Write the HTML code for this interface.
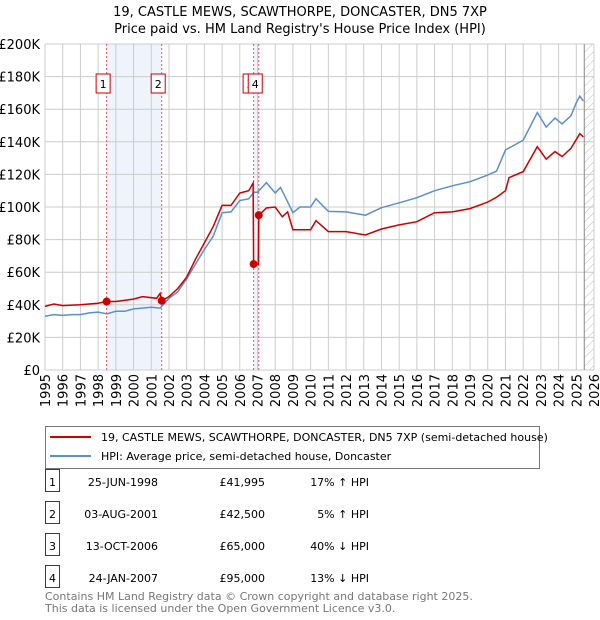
<!DOCTYPE html>
<html><head><meta charset="utf-8"><style>
body{margin:0;background:#fff;font-family:"DejaVu Sans","Liberation Sans",sans-serif;}
svg{display:block}
</style></head><body>
<svg id="chart" width="600" height="620" xmlns="http://www.w3.org/2000/svg" font-family="DejaVu Sans, Liberation Sans, sans-serif">
<defs><pattern id="hatch" width="6" height="6" patternUnits="userSpaceOnUse" patternTransform="rotate(45)"><line x1="0" y1="0" x2="0" y2="6" stroke="#bbb" stroke-width="1"/></pattern></defs>
<text x="300" y="16" text-anchor="middle" font-size="13">19, CASTLE MEWS, SCAWTHORPE, DONCASTER, DN5 7XP</text>
<text x="300" y="33" text-anchor="middle" font-size="13">Price paid vs. HM Land Registry's House Price Index (HPI)</text>
<g id="plot"></g>
<g>
<rect x="45.5" y="426.5" width="494" height="42" fill="#fff" stroke="#777"/>
<line x1="50" y1="437" x2="91" y2="437" stroke="#cc0000" stroke-width="2"/>
<text x="101" y="441" font-size="11">19, CASTLE MEWS, SCAWTHORPE, DONCASTER, DN5 7XP (semi-detached house)</text>
<line x1="50" y1="456" x2="91" y2="456" stroke="#5b8fd0" stroke-width="2"/>
<text x="101" y="460" font-size="11">HPI: Average price, semi-detached house, Doncaster</text>
</g>
<g id="table" font-size="11"></g>
<text x="45" y="600" font-size="11" fill="#777">Contains HM Land Registry data © Crown copyright and database right 2025.</text>
<text x="45" y="612" font-size="11" fill="#777">This data is licensed under the Open Government Licence v3.0.</text>
</svg>
<script>
const hpiYears=[1995,1995.5,1996,1996.5,1997,1997.5,1998,1998.5,1999,1999.5,2000,2000.5,2001,2001.5,2002,2002.5,2003,2003.5,2004,2004.5,2005,2005.5,2006,2006.5,2006.8,2007,2007.5,2008,2008.3,2008.8,2009,2009.4,2010,2010.3,2011,2012,2013.1,2014,2015,2016,2017,2018,2019,2020,2020.5,2021,2021.5,2022,2022.8,2023.3,2023.8,2024.2,2024.7,2025,2025.2,2025.4];
const hpiValues=[33,34,33.5,34,34,35,35.5,34.5,36,36,37.5,38,38.5,38,44,48,56,65,74,82,96.5,97,104,105,109,109,115,108.6,112,101,96.5,100,100,105,97.3,97,95,99.6,102.6,105.7,110,113,115.5,119.6,122,135,138,141,158,149,154.6,151,156,164,168,165];
const priceYears=[1995,1995.5,1996,1997,1998,1998.48,1999,2000,2000.5,2001.3,2001.5,2001.59,2002,2002.5,2003,2003.5,2004,2004.5,2005,2005.5,2006,2006.5,2006.75,2006.78,2007.05,2007.07,2007.5,2008,2008.4,2008.7,2009,2009.4,2010,2010.3,2011,2012,2013.1,2014,2015,2016,2017,2018,2019,2020,2020.5,2021,2021.2,2022,2022.8,2023.3,2023.8,2024.2,2024.7,2025.2,2025.4];
const priceValues=[39,40.5,39.5,40,41,41.995,42,43.5,45,44,47,42.5,45,50,57,68,78,88,101,101,108.6,110,114.7,65,65,95,99.4,100,94,97,86,86,86,91.6,84.9,84.9,82.8,86.5,89,91,96.5,97,99,103,106,110,118,121.7,137,129.4,134,131,136,145,143];
const saleYears=[1998.48,2001.59,2006.78,2007.07];
const saleValues=[41.995,42.5,65,95];
const saleLabels=["1","2","3","4"];
const saleDates=["25-JUN-1998","03-AUG-2001","13-OCT-2006","24-JAN-2007"];
const salePrices=["£41,995","£42,500","£65,000","£95,000"];
const saleHpi=["17% ↑ HPI","5% ↑ HPI","40% ↓ HPI","13% ↓ HPI"];
const yTicks=[0,20,40,60,80,100,120,140,160,180,200];
const yTickLabels=["£0","£20K","£40K","£60K","£80K","£100K","£120K","£140K","£160K","£180K","£200K"];
const xTicks=[1995,1996,1997,1998,1999,2000,2001,2002,2003,2004,2005,2006,2007,2008,2009,2010,2011,2012,2013,2014,2015,2016,2017,2018,2019,2020,2021,2022,2023,2024,2025,2026];

const X0=45,X1=594,Y0=370,Y1=44;
const xs=y=>X0+(y-1995)/(2026-1995)*(X1-X0);
const ys=v=>Y0-v/200*(Y0-Y1);
const NS="http://www.w3.org/2000/svg";
const plot=document.getElementById('plot');
function mk(tag,attrs,parent){const e=document.createElementNS(NS,tag);for(const k in attrs)e.setAttribute(k,attrs[k]);(parent||plot).appendChild(e);return e;}

let b=mk('rect',{x:xs(saleYears[0]),y:Y1,width:xs(saleYears[1])-xs(saleYears[0]),height:Y0-Y1,fill:'#eef3fc'});


b=mk('rect',{x:xs(saleYears[2]),y:Y1,width:xs(saleYears[3])-xs(saleYears[2]),height:Y0-Y1,fill:'#eef3fc'});


b=mk('rect',{x:xs(2025.45),y:Y1,width:X1-xs(2025.45),height:Y0-Y1,fill:'url(#hatch)'});


yTicks.forEach((v,i)=>{
 const l=mk('line',{x1:X0,x2:X1,y1:ys(v),y2:ys(v),stroke:'#ccc','stroke-width':1});
 
 
 const t=mk('text',{x:X0-5,y:ys(v)+5,'text-anchor':'end','font-size':13});
 
 
 t.textContent=yTickLabels[i];
});
xTicks.forEach(yr=>{
 const l=mk('line',{x1:xs(yr),x2:xs(yr),y1:Y1,y2:Y0,stroke:'#ccc','stroke-width':1});
 
 
 const t=mk('text',{x:0,y:0,'text-anchor':'end','font-size':13,transform:`translate(${xs(yr)+5},${Y0+4}) rotate(-90)`});
 
 
 t.textContent=yr;
});
const ax=mk('line',{x1:xs(2025.45),x2:xs(2025.45),y1:Y1,y2:Y0,stroke:'#888','stroke-width':1});


saleYears.forEach(yr=>{
 const l=mk('line',{x1:xs(yr),x2:xs(yr),y1:Y1,y2:Y0,stroke:'#e55','stroke-width':1,'stroke-dasharray':'2,2'});
 
 
});
function path(xa,va){return xa.map((x,i)=>(i?'L':'M')+xs(x).toFixed(1)+','+ys(va[i]).toFixed(1)).join('');}
const hp=mk('path',{d:path(hpiYears,hpiValues),fill:'none',stroke:'#5b8fd0','stroke-width':1.5});


const pp=mk('path',{d:path(priceYears,priceValues),fill:'none',stroke:'#cc0000','stroke-width':1.5});


saleYears.forEach((yr,i)=>{
 const c=mk('circle',{cx:xs(yr),cy:ys(saleValues[i]),r:4,fill:'#cc0000'});
 
 
});
saleYears.forEach((yr,i)=>{
 const g=mk('g',{});
 
 
 const cx=xs(yr)-10.5;
 mk('rect',{x:cx,y:74,width:14,height:19,fill:'#fff',stroke:'#cc0000','stroke-width':1},g);
 const t=mk('text',{x:cx+7,y:88,'text-anchor':'middle','font-size':11},g);
 t.textContent=saleLabels[i];
});
const table=document.getElementById('table');
saleLabels.forEach((lab,i)=>{
 const y=482+i*32;
 const g=mk('g',{},table);
 
 
 mk('rect',{x:45.5,y:y-12.5,width:14,height:22,fill:'#fff',stroke:'#cc0000'},g);
 let t=mk('text',{x:52.5,y:y+4,'text-anchor':'middle'},g);t.textContent=lab;
 t=mk('text',{x:158,y:y+4,'text-anchor':'end'},g);t.textContent=saleDates[i];
 t=mk('text',{x:265,y:y+4,'text-anchor':'end'},g);t.textContent=salePrices[i];
 t=mk('text',{x:369,y:y+4,'text-anchor':'end'},g);t.textContent=saleHpi[i];
});
</script>
</body></html>
